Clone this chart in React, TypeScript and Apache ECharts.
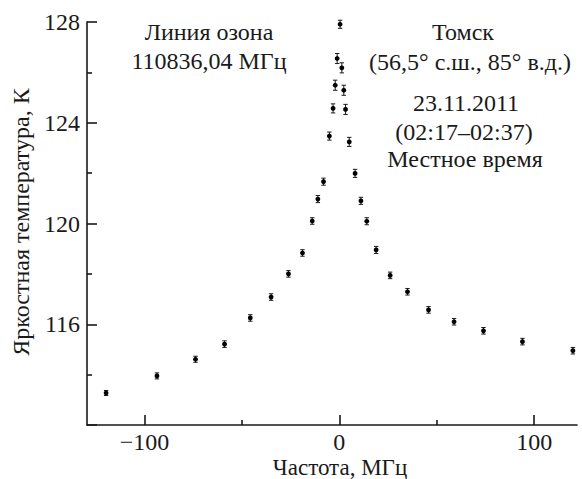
import React, { useEffect, useRef } from "react";
import * as echarts from "echarts";

const freq = [
  -119.7, -93.6, -73.8, -58.9, -45.7, -35.0, -26.1, -18.9, -13.9, -11.0, -8.1, -5.1, -3.2, -2.1, -1.1, 0.4,
  1.3, 2.3, 3.2, 5.1, 8.1, 11.1, 14.1, 18.9, 26.1, 35.0, 45.8, 58.9, 74.0, 94.0, 119.9,
];
const temp = [
  113.27, 113.95, 114.61, 115.21, 116.25, 117.08, 118.0, 118.83, 120.1, 120.97, 121.66, 123.47, 124.57, 125.49, 126.55, 127.91,
  126.18, 125.29, 124.53, 123.24, 121.99, 120.9, 120.09, 118.95, 117.94, 117.29, 116.57, 116.1, 115.74, 115.31, 114.95,
];
const errs = [
  0.1, 0.12, 0.12, 0.13, 0.13, 0.13, 0.13, 0.13, 0.13, 0.14, 0.14, 0.16, 0.18, 0.2, 0.2, 0.16,
  0.2, 0.2, 0.2, 0.18, 0.16, 0.14, 0.14, 0.14, 0.13, 0.13, 0.13, 0.13, 0.13, 0.13, 0.13,
];

const yTickLabels = [116, 120, 124, 128];
const xMajorTicks = [-100, 0, 100];
const xMinorTicks = [-50, 50];

const xTitle = "Частота, МГц";
const yTitle = "Яркостная температура, К";
const notes = [
  { text: "Линия озона", x: 209, y: 32 },
  { text: "110836,04 МГц", x: 209, y: 61 },
  { text: "Томск", x: 463, y: 32 },
  { text: "(56,5° с.ш., 85° в.д.)", x: 470, y: 62 },
  { text: "23.11.2011", x: 466, y: 103 },
  { text: "(02:17–02:37)", x: 464, y: 132 },
  { text: "Местное время", x: 465, y: 159 },
];

const FONT = "'Liberation Serif', 'Times New Roman', serif";
const INK = "#1a1a1a";
const FS = 24;

export default function App() {
  const ref = useRef<HTMLDivElement>(null);
  useEffect(() => {
    if (!ref.current) return;
    const chart = echarts.init(ref.current, null, { renderer: "svg" });
    const pts = freq.map((f, i) => [f, temp[i], errs[i]]);
    const xMin = -129.5;
    const xMax = 122;
    const fmt = (v: number) => String(v).replace("-", "\u2212");
    chart.setOption({
      animation: false,
      backgroundColor: "#ffffff",
      textStyle: { fontFamily: FONT },
      grid: { left: 87, right: 5, top: 22, bottom: 54, containLabel: false },
      xAxis: [
        {
          type: "value",
          min: xMin,
          max: xMax,
          position: "bottom",
          axisLine: { show: true, onZero: false, lineStyle: { color: INK, width: 1.6 } },
          axisTick: { show: true, inside: true, length: 10, customValues: xMajorTicks, lineStyle: { color: INK, width: 1.6 } },
          axisLabel: {
            show: true,
            customValues: xMajorTicks,
            formatter: fmt,
            margin: 5,
            fontSize: FS,
            fontFamily: FONT,
            color: INK,
          },
          splitLine: { show: false },
        },
        {
          type: "value",
          min: xMin,
          max: xMax,
          position: "bottom",
          axisLine: { show: false },
          axisTick: { show: true, inside: true, length: 5, customValues: xMinorTicks, lineStyle: { color: INK, width: 1.6 } },
          axisLabel: { show: false },
          splitLine: { show: false },
        },
      ],
      yAxis: {
        type: "value",
        min: 112,
        max: 128,
        interval: 4,
        axisLine: { show: true, onZero: false, lineStyle: { color: INK, width: 1.6 } },
        axisTick: { show: true, inside: true, length: 10, lineStyle: { color: INK, width: 1.6 } },
        minorTick: { show: true, splitNumber: 2, length: 5, lineStyle: { color: INK, width: 1.6 } },
        axisLabel: {
          customValues: yTickLabels,
          margin: 7,
          fontSize: FS,
          fontFamily: FONT,
          color: INK,
        },
        splitLine: { show: false },
        minorSplitLine: { show: false },
      },
      series: [
        {
          type: "custom",
          xAxisIndex: 0,
          data: pts,
          encode: { x: 0, y: 1 },
          renderItem: (params: any, api: any) => {
            const x = api.value(0);
            const y = api.value(1);
            const e = api.value(2);
            const top = api.coord([x, y + e]);
            const bot = api.coord([x, y - e]);
            const c = api.coord([x, y]);
            const w = 2.2;
            const ls = { stroke: INK, lineWidth: 1 };
            return {
              type: "group",
              children: [
                { type: "line", shape: { x1: top[0], y1: top[1], x2: bot[0], y2: bot[1] }, style: ls },
                { type: "line", shape: { x1: top[0] - w, y1: top[1], x2: top[0] + w, y2: top[1] }, style: ls },
                { type: "line", shape: { x1: bot[0] - w, y1: bot[1], x2: bot[0] + w, y2: bot[1] }, style: ls },
                { type: "circle", shape: { cx: c[0], cy: c[1], r: 2.4 }, style: { fill: "#000" } },
              ],
            };
          },
        },
      ],
      graphic: [
        ...notes.map((n) => ({
          type: "text",
          x: n.x,
          y: n.y,
          style: {
            text: n.text,
            fontSize: FS,
            fontFamily: FONT,
            fill: INK,
            textAlign: "center",
            textVerticalAlign: "middle",
          },
        })),
        {
          type: "text",
          x: 340,
          y: 467,
          style: {
            text: xTitle,
            fontSize: 23,
            fontFamily: FONT,
            fill: INK,
            textAlign: "center",
            textVerticalAlign: "middle",
          },
        },
        {
          type: "text",
          x: 21,
          y: 222,
          rotation: Math.PI / 2,
          style: { text: yTitle, fontSize: FS, fontFamily: FONT, fill: INK, textAlign: "center", textVerticalAlign: "middle" },
        },
      ],
    });
    return () => chart.dispose();
  }, []);
  return <div ref={ref} style={{ width: 582, height: 479, position: "absolute", left: 0, top: 0 }} />;
}
